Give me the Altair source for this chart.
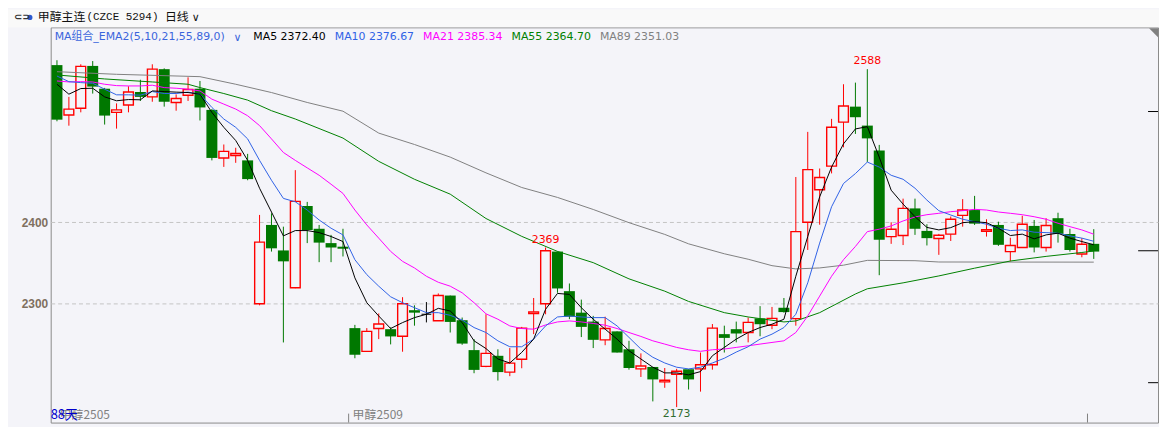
import altair as alt
import pandas as pd

# ---------------- data ----------------
opens = [2593, 2531.7, 2540, 2592, 2564, 2535, 2544, 2560, 2554, 2588,
         2547, 2556, 2564, 2538, 2479, 2482, 2476, 2300, 2396.7, 2365.4,
         2319.5, 2420, 2392, 2374.4, 2370, 2270, 2241.5, 2269.5, 2268.7, 2260,
         2292, 2287, 2279, 2310, 2279.7, 2243, 2223, 2236, 2216, 2231.7,
         2288, 2300, 2364, 2315.4, 2289, 2278, 2255.6, 2266, 2244, 2220,
         2222.3, 2204, 2213.4, 2219.5, 2220, 2225, 2262.6, 2268.7, 2264.6, 2282,
         2273.5, 2295, 2281.7, 2400, 2440, 2469, 2523, 2542, 2518.7, 2488,
         2382.4, 2383.7, 2417, 2389.4, 2380, 2385.4, 2408.5, 2415, 2389, 2396.7,
         2364, 2369, 2395.5, 2369, 2405, 2385.7, 2361, 2373.5]
highs = [2599, 2554, 2594, 2598, 2565, 2546, 2567, 2575, 2594, 2589,
         2557, 2578, 2573.5, 2539, 2495.5, 2491.5, 2484, 2409, 2411, 2394.6,
         2464, 2425, 2396.7, 2384.5, 2392, 2274, 2270, 2288, 2271, 2308,
         2298, 2302, 2312.6, 2310, 2283, 2256.5, 2287, 2244, 2245.5, 2271.5,
         2307, 2369, 2364, 2324.8, 2305, 2285, 2284, 2266, 2254.4, 2239,
         2222.3, 2221, 2220, 2219.5, 2240, 2275, 2273, 2278, 2283, 2297,
         2296, 2307, 2455.6, 2511, 2466, 2527, 2569.5, 2571.5, 2588, 2495,
         2400, 2429, 2429, 2397.6, 2385.7, 2407, 2428.4, 2432.4, 2403.7, 2400.7,
         2381, 2408, 2402.8, 2405, 2411.7, 2392, 2380.5, 2391.5]
lows = [2524, 2518.6, 2535, 2558, 2520, 2515, 2535, 2549, 2548, 2542,
        2537, 2549, 2525, 2476, 2468, 2473, 2451.6, 2298, 2364, 2252.4,
        2319, 2374.4, 2351, 2351, 2358, 2233, 2241.5, 2256.5, 2250, 2241,
        2273, 2277, 2279, 2264.6, 2249.5, 2214.6, 2222, 2205.6, 2211, 2220.7,
        2262.6, 2287, 2313.4, 2281, 2259, 2245.5, 2249, 2240, 2219, 2210,
        2180, 2196.7, 2173, 2194.6, 2192, 2219, 2240, 2252.5, 2252.5, 2260,
        2268.7, 2289, 2273, 2366, 2397, 2460, 2492, 2508.5, 2474, 2335,
        2373.5, 2372, 2384.5, 2371.5, 2360, 2377, 2394.6, 2396.7, 2382.4, 2371,
        2352, 2369, 2363, 2364, 2375, 2364, 2357, 2355]
closes = [2526, 2539, 2591.5, 2566.6, 2531, 2538, 2560, 2554, 2588, 2548,
          2552, 2563, 2541, 2479, 2487, 2484.5, 2453, 2375.6, 2368, 2352,
          2425.6, 2390.6, 2375, 2369, 2367.5, 2237.3, 2266, 2275, 2259.8, 2300,
          2289, 2287, 2310, 2277.6, 2251, 2218.7, 2239, 2216, 2227, 2270,
          2290, 2365, 2318.7, 2284, 2271.5, 2255.6, 2269.5, 2240, 2221, 2223.5,
          2207, 2206, 2217, 2207, 2225, 2270, 2258, 2263.4, 2277, 2274.8,
          2282, 2289.7, 2388.5, 2464.6, 2455, 2516.6, 2542.7, 2529, 2503, 2378.4,
          2391.5, 2417, 2392, 2380.5, 2384, 2403.7, 2415, 2398.3, 2391, 2372.3,
          2371.5, 2397.6, 2369, 2396, 2385.7, 2366, 2373, 2364]

ma5 = [2569.5, 2557.3, 2564.2, 2564.6, 2554.0, 2549.2, 2550.7, 2550.4, 2561.3, 2560.5,
       2559.8, 2559.3, 2557.3, 2534.9, 2516.6, 2500.4, 2476.0, 2441.8, 2412.6, 2383.3,
       2389.8, 2389.8, 2387.3, 2382.5, 2376.3, 2331.7, 2301.2, 2284.9, 2269.5, 2276.8,
       2282.9, 2287.0, 2294.3, 2291.0, 2276.8, 2254.4, 2244.9, 2232.1, 2227.2, 2240.2,
       2256.5, 2293.1, 2312.6, 2311.4, 2295.1, 2280.9, 2268.7, 2256.5, 2242.2, 2232.1,
       2222.0, 2215.0, 2215.0, 2212.6, 2216.6, 2236.1, 2246.3, 2256.5, 2264.6, 2270.7,
       2274.8, 2280.9, 2333.7, 2382.4, 2431.2, 2467.8, 2496.3, 2514.6, 2517.4, 2480.0,
       2439.4, 2422.3, 2406.8, 2393.7, 2390.6, 2393.4, 2399.5, 2400.7, 2399.5, 2392.7,
       2383.7, 2385.4, 2379.6, 2384.5, 2386.6, 2380.5, 2376.3, 2372.4]
ma10 = [2579.6, 2572.7, 2571.5, 2570.7, 2563.4, 2556.5, 2556.5, 2556.1, 2560.5, 2558.1,
        2558.1, 2559.8, 2557.3, 2541.0, 2526.8, 2516.6, 2502.4, 2476.0, 2451.6, 2429.3,
        2425.1, 2415.0, 2402.8, 2392.7, 2384.5, 2354.0, 2335.7, 2321.5, 2308.5, 2301.2,
        2295.1, 2289.0, 2289.0, 2285.7, 2280.0, 2270.7, 2264.6, 2254.4, 2247.1, 2247.1,
        2256.5, 2272.7, 2283.7, 2284.9, 2283.7, 2282.9, 2282.9, 2272.7, 2258.6, 2244.3,
        2234.2, 2227.2, 2222.0, 2219.9, 2222.0, 2227.2, 2233.0, 2240.6, 2247.1, 2256.5,
        2262.6, 2270.7, 2287.0, 2325.6, 2374.4, 2419.0, 2447.6, 2459.8, 2473.9, 2467.8,
        2457.7, 2452.8, 2441.8, 2427.2, 2414.2, 2408.9, 2403.7, 2400.7, 2397.6, 2392.7,
        2389.8, 2390.6, 2387.8, 2387.3, 2386.6, 2383.3, 2380.5, 2376.67]
ma21 = [2573.5, 2572.3, 2572.7, 2572.3, 2569.5, 2567.8, 2567.4, 2567.4, 2568.3, 2565.4,
        2564.6, 2563.4, 2561.3, 2551.2, 2545.1, 2539.0, 2530.8, 2518.7, 2502.4, 2485.7,
        2476.0, 2466.8, 2457.7, 2446.7, 2435.4, 2415.0, 2396.7, 2380.5, 2364.2, 2352.0,
        2343.9, 2333.7, 2326.3, 2321.5, 2313.4, 2301.2, 2287.6, 2280.9, 2272.7, 2269.5,
        2268.7, 2273.9, 2277.6, 2278.8, 2277.6, 2275.7, 2273.6, 2269.5, 2264.6, 2259.8,
        2254.4, 2250.4, 2246.3, 2243.4, 2241.5, 2243.4, 2244.3, 2246.3, 2248.3, 2250.4,
        2252.4, 2254.4, 2264.6, 2284.9, 2309.3, 2333.7, 2354.0, 2370.3, 2388.5, 2391.5,
        2395.5, 2401.6, 2406.5, 2409.3, 2411.0, 2413.0, 2414.2, 2415.9, 2415.0, 2412.6,
        2411.0, 2409.3, 2406.8, 2403.7, 2398.8, 2394.6, 2390.6, 2385.34]
ma55_idx = [0, 4, 8, 11, 12, 14, 16, 18, 20, 24, 27, 30, 33, 36, 39, 42, 45, 48, 51, 53,
            56, 58, 61, 62, 64, 67, 68, 71, 74, 77, 80, 83, 86, 87]
ma55 = [2580.9, 2576.0, 2572.3, 2569.5, 2565.4, 2558.1, 2550.0, 2537.0, 2526.8, 2503.4,
        2474.8, 2452.8, 2434.5, 2404.6, 2382.7, 2364.2, 2350.4, 2330.5, 2315.4, 2302.8,
        2289.0, 2283.7, 2277.6, 2278.8, 2289.0, 2311.9, 2318.3, 2325.6, 2334.1, 2343.6,
        2352.4, 2358.1, 2362.9, 2364.70]
ma89_idx = [0, 5, 12, 15, 18, 21, 24, 27, 30, 33, 36, 39, 42, 45, 48, 51, 53, 56, 58, 60,
            62, 64, 66, 68, 72, 74, 87]
ma89 = [2584.9, 2581.7, 2578.8, 2569.5, 2559.3, 2547.1, 2536.4, 2509.5, 2495.5, 2480.0,
        2460.7, 2442.7, 2430.5, 2415.7, 2399.5, 2385.1, 2373.5, 2361.3, 2354.6, 2346.7,
        2342.7, 2343.9, 2347.3, 2353.2, 2352.8, 2351.2, 2351.03]

ann_idx = [68, 41]
ann_val = [2588, 2369]
low_ann_idx = [52]
low_ann_val = [2173]
right_marks = [2536, 2203]
last_mark = [2365]

legend_names = ["MA5", "MA10", "MA21", "MA55", "MA89"]
legend_vals = ["2372.40", "2376.67", "2385.34", "2364.70", "2351.03"]

# ---------------- styling ----------------
BG = "#f4f4f9"
RED = "#ff0000"
GREEN = "#007800"
C_MA5 = "#000000"
C_MA10 = "#2f62e6"
C_MA21 = "#ff00ff"
C_MA55 = "#008000"
C_MA89 = "#808080"
LAT = "DejaVu Sans, Noto Sans CJK SC"
CJK = "Noto Sans CJK SC"

n = len(opens)
dirs = []
for o, c in zip(opens, closes):
    dirs.append("up" if c > o else ("down" if c < o else "flat"))
df = pd.DataFrame({"i": list(range(n)), "o": opens, "h": highs, "l": lows, "c": closes, "dir": dirs})

xs = alt.Scale(domain=[-0.525, -0.525 + 1115 / 12], nice=False, zero=False)
ys = alt.Scale(domain=[2154.0, 2639.4], nice=False, zero=False)
yaxis = alt.Axis(values=[2300, 2400], format="d", title=None, grid=True, gridDash=[4, 3],
                 gridColor="#c4c4c4", gridWidth=1, domain=False, ticks=False, labelPadding=3,
                 labelFont="Liberation Sans", labelFontWeight="bold", labelFontSize=12,
                 labelColor="#7f705f")


def X(f="i"):
    return alt.X(f, type="quantitative", scale=xs, axis=None)


def Y(f):
    return alt.Y(f, type="quantitative", scale=ys, axis=yaxis)


base = alt.Chart(df)

wicks = base.mark_rule(strokeWidth=1).encode(
    x=X(), y=Y("l"), y2="h",
    color=alt.Color("dir:N", scale=alt.Scale(domain=["up", "down", "flat"], range=[RED, GREEN, "#000000"]), legend=None),
)
down = base.transform_filter("datum.dir == 'down'").transform_calculate(
    x0="datum.i - 0.46", x1="datum.i + 0.46").mark_rect(color=GREEN).encode(
    x=X("x0"), x2="x1", y=Y("o"), y2="c")
up = base.transform_filter("datum.dir == 'up'").transform_calculate(
    x0="datum.i - 0.41", x1="datum.i + 0.41").mark_rect(fill=BG, stroke=RED, strokeWidth=1.4).encode(
    x=X("x0"), x2="x1", y=Y("o"), y2="c")
flat = base.transform_filter("datum.dir == 'flat'").transform_calculate(
    x0="datum.i - 0.41", x1="datum.i + 0.41").mark_rect(fill=BG, stroke="#000000", strokeWidth=1.2).encode(
    x=X("x0"), x2="x1", y=Y("o"), y2="c")


def ma_line(idx, vals, color):
    d = pd.DataFrame({"i": idx, "v": vals})
    return alt.Chart(d).mark_line(color=color, strokeWidth=1).encode(x=X(), y=Y("v"))


lines = [
    ma_line(ma89_idx, ma89, C_MA89),
    ma_line(ma55_idx, ma55, C_MA55),
    ma_line(list(range(n)), ma21, C_MA21),
    ma_line(list(range(n)), ma10, C_MA10),
    ma_line(list(range(n)), ma5, C_MA5),
]

ann_hi = alt.Chart(pd.DataFrame({"i": ann_idx, "v": ann_val})).transform_calculate(
    t="format(datum.v, 'd')").mark_text(font=LAT, fontSize=11, color=RED, baseline="middle", dy=-8).encode(
    x=X(), y=Y("v"), text="t:N")
ann_lo = alt.Chart(pd.DataFrame({"i": low_ann_idx, "v": low_ann_val})).transform_calculate(
    t="format(datum.v, 'd')").mark_text(font=LAT, fontSize=11, color="#2f6b2f", baseline="middle", dy=7).encode(
    x=X(), y=Y("v"), text="t:N")

rmarks = alt.Chart(pd.DataFrame({"v": right_marks})).mark_rule(color="#000000", strokeWidth=1).encode(
    x=alt.value(1105), x2=alt.value(1115), y=Y("v"))
lmark = alt.Chart(pd.DataFrame({"v": last_mark})).mark_rule(color="#000000", strokeWidth=1).encode(
    x=alt.value(1095), x2=alt.value(1115), y=Y("v"))

one = alt.Data(values=[{"k": 1}])


def txt(s, x, y, color, size=11, font=LAT, weight="normal", align="left"):
    return alt.Chart(alt.Data(values=[{"t": s}])).mark_text(
        align=align, baseline="middle", font=font, fontSize=size, color=color, fontWeight=weight
    ).encode(x=alt.value(x), y=alt.value(y), text="t:N")


header_band = alt.Chart(one).mark_rect(color="#f9f9f9").encode(
    x=alt.value(-43), x2=alt.value(1116), y=alt.value(-18), y2=alt.value(0))
dot = alt.Chart(one).mark_circle(color="#2d5bd0", size=28, opacity=1).encode(
    x=alt.value(-21), y=alt.value(-10))
corner = alt.Chart(one).mark_point(shape="M -1 -1 L 1 -1 L 1 1 Z", filled=True, size=81,
                                   color="#808080", opacity=1).encode(x=alt.value(1110.5), y=alt.value(5.5))
btick1 = alt.Chart(one).mark_rule(color="#808080").encode(x=alt.value(300), y=alt.value(389), y2=alt.value(398))
btick2 = alt.Chart(one).mark_rule(color="#808080").encode(x=alt.value(1044), y=alt.value(389), y2=alt.value(398))

texts = [
    txt("⊂⊃", -37, -10, "#333333", size=10, weight="bold"),
    txt("甲醇主连", -13, -10, "#111111", size=12, font=CJK),
    txt("(CZCE 5294)", 36, -10, "#111111", size=11, font="Liberation Mono"),
    txt("日线", 115, -10, "#111111", size=12, font=CJK),
    txt("∨", 142, -9, "#111111", size=11),
    txt("MA组合_EMA2(5,10,21,55,89,0)", 4, 10, "#3a64dc", size=11),
    txt("∨", 184, 11, "#3a64dc", size=11),
]
legend_x = [204, 286, 375, 464, 553]
legend_c = [C_MA5, C_MA10, C_MA21, C_MA55, C_MA89]
for nm, v, x, col in zip(legend_names, legend_vals, legend_x, legend_c):
    texts.append(txt(nm + " " + v, x, 10, col, size=11))
texts += [
    txt("甲醇2505", 9, 390, "#808080", size=12, font=CJK),
    txt("88天", 0, 390, "#0000cc", size=13, font=CJK),
    txt("甲醇2509", 304, 390, "#808080", size=12, font=CJK),
]

chart = alt.layer(
    header_band, wicks, down, up, flat, *lines, ann_hi, ann_lo, rmarks, lmark,
    dot, corner, btick1, btick2, *texts
).properties(
    width=1115, height=398,
    padding={"left": 43, "top": 18, "right": 1, "bottom": 3},
    autosize=alt.AutoSizeParams(type="none"),
).configure(background=BG).configure_view(stroke="#8a8a8a", strokeWidth=1)

chart.save("out.html", embed_options={"renderer": "svg", "actions": False})
